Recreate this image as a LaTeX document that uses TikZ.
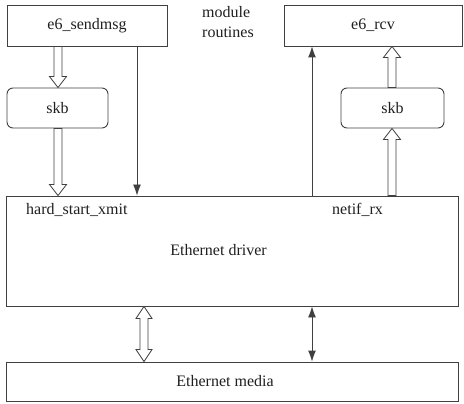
\documentclass[tikz,border=0pt]{standalone}
\usepackage{fontspec}
\setmainfont{Liberation Serif}
\usetikzlibrary{arrows.meta,calc}
\definecolor{lncol}{gray}{0.25}
\definecolor{txtcol}{gray}{0.12}
\tikzset{
  box/.style={draw=lncol, line width=0.9pt, inner sep=0pt, text=txtcol,
    font=\fontsize{16}{19}\selectfont},
  roundbox/.style={box, rounded corners=6pt},
  lbl/.style={inner sep=0pt, text=txtcol, font=\fontsize{16}{19}\selectfont},
  thinarrow/.style={draw=lncol, line width=0.9pt, -{Latex[length=11pt,width=8pt]}},
  thindouble/.style={draw=lncol, line width=0.9pt, {Latex[length=11pt,width=8pt]}-{Latex[length=11pt,width=8pt]}},
  hollow/.style={draw=lncol, line width=0.8pt, fill=white, line join=miter}
}
\newcommand\hollowarrow[2]{%
  \draw[hollow] let \p1=(#1), \p2=(#2), \n1={sign(\y2-\y1)*11} in
    (\x1-4pt,\y1) -- (\x1-4pt,{\y2-(\n1)*1pt}) -- (\x1-8.5pt,{\y2-(\n1)*1pt})
    -- (\x1,\y2) -- (\x1+8.5pt,{\y2-(\n1)*1pt}) -- (\x1+4pt,{\y2-(\n1)*1pt})
    -- (\x1+4pt,\y1) -- cycle;}
\newcommand\hollowdouble[2]{%
  \draw[hollow] let \p1=(#1), \p2=(#2), \n1={sign(\y2-\y1)*12} in
    (\x1,\y1) -- (\x1+8pt,{\y1+(\n1)*1pt}) -- (\x1+4pt,{\y1+(\n1)*1pt})
    -- (\x1+4pt,{\y2-(\n1)*1pt}) -- (\x1+8pt,{\y2-(\n1)*1pt}) -- (\x1,\y2)
    -- (\x1-8pt,{\y2-(\n1)*1pt}) -- (\x1-4pt,{\y2-(\n1)*1pt})
    -- (\x1-4pt,{\y1+(\n1)*1pt}) -- (\x1-8pt,{\y1+(\n1)*1pt}) -- cycle;}
\begin{document}
\begin{tikzpicture}[x=1pt,y=-1pt]
\useasboundingbox (0,0) rectangle (464,404);
% boxes
\node[box, minimum width=160pt, minimum height=41pt] (send) at (87,25.5) {e6\_sendmsg};
\node[box, minimum width=178pt, minimum height=41pt] (rcv) at (373,25.5) {e6\_rcv};
\node[roundbox, minimum width=101pt, minimum height=40pt] (skbl) at (57.5,108) {skb};
\node[roundbox, minimum width=103pt, minimum height=40pt] (skbr) at (392.5,108) {skb};
\node[box, minimum width=452pt, minimum height=110pt] (drv) at (232,251) {};
\node[box, minimum width=452pt, minimum height=39pt] (media) at (232,381.5) {};
% labels
\node[lbl, anchor=north west, align=left, font=\fontsize{16}{20}\selectfont] (mod) at (202,6) {module\\routines};
\node[lbl] (drvtxt) at (218.5,250) {Ethernet driver};
\node[lbl] (medtxt) at (225,381.5) {Ethernet media};
\node[lbl, anchor=west] (hsx) at (26,210) {hard\_start\_xmit};
\node[lbl, anchor=west] (nrx) at (332,210) {netif\_rx};
% hollow arrows
\hollowarrow{58,0 |- send.south}{58,0 |- skbl.north}
\hollowarrow{58,0 |- skbl.south}{58,0 |- drv.north}
\hollowarrow{392,0 |- drv.north}{392,0 |- skbr.south}
\hollowarrow{392,0 |- skbr.north}{392,0 |- rcv.south}
\hollowdouble{144,0 |- drv.south}{144,0 |- media.north}
% thin arrows
\draw[thinarrow] (137,0 |- send.south) -- (137,0 |- drv.north);
\draw[thinarrow] (312,0 |- drv.north) -- (312,0 |- rcv.south);
\draw[thindouble] (312,0 |- drv.south) -- (312,0 |- media.north);
\end{tikzpicture}
\end{document}
